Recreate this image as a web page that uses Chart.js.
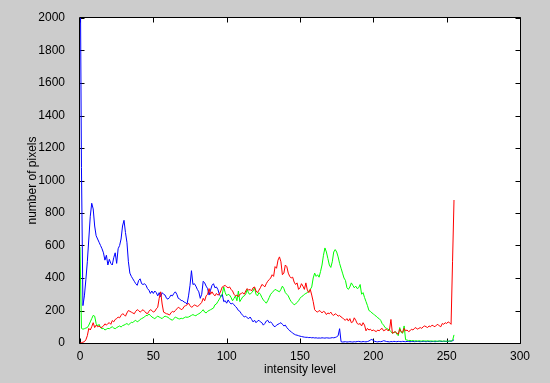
<!DOCTYPE html>
<html>
<head>
<meta charset="utf-8">
<script src="https://cdn.jsdelivr.net/npm/chart.js@4/dist/chart.umd.min.js"></script>
<style>
  html, body { margin: 0; padding: 0; background: #cccccc; }
  #hist { display: block; }
</style>
</head>
<body>
<canvas id="hist" width="550" height="383"></canvas>
<script>
// per-channel pixel counts, one value per intensity level 0..255
var redCounts = [
  0, 2, 5, 8, 20, 45, 90, 80, 100, 125,
  95, 110, 100, 105, 95, 97, 105, 118, 110, 120,
  125, 115, 138, 130, 145, 150, 160, 155, 170, 180,
  175, 165, 185, 200, 195, 190, 185, 180, 195, 205,
  200, 190, 198, 205, 195, 185, 180, 195, 205, 200,
  190, 195, 210, 220, 275, 315, 240, 190, 185, 180,
  178, 172, 185, 195, 190, 200, 210, 220, 215, 205,
  210, 225, 230, 235, 245, 230, 220, 225, 235, 230,
  225, 230, 240, 250, 275, 260, 290, 300, 335, 300,
  315, 300, 290, 305, 295, 300, 320, 345, 350, 355,
  345, 340, 345, 330, 320, 300, 290, 295, 285, 300,
  305, 310, 300, 320, 335, 325, 330, 320, 340, 345,
  320, 310, 325, 340, 360, 355, 345, 365, 380, 390,
  400, 420, 410, 470, 460, 510, 530, 500, 420, 430,
  480, 470, 430, 410, 400, 405, 375, 360, 370, 330,
  340, 365, 350, 330, 370, 325, 310, 330, 295, 255,
  205, 195, 190, 200, 195, 185, 195, 190, 175, 185,
  180, 190, 175, 170, 180, 175, 165, 170, 160, 155,
  145, 140, 150, 135, 150, 125, 130, 155, 140, 120,
  115, 120, 105, 125, 110, 75, 90, 80, 85, 75,
  80, 75, 70, 80, 75, 85, 90, 75, 80, 85,
  75, 80, 145, 60, 65, 70, 60, 55, 85, 70,
  65, 90, 75, 80, 70, 75, 85, 80, 90, 95,
  85, 90, 95, 90, 100, 105, 100, 95, 105, 100,
  110, 105, 100, 110, 115, 105, 100, 120, 115, 125,
  120, 130, 125, 115, 500, 880
];
var greenCounts = [
  590, 90, 85, 88, 92, 95, 110, 130, 150, 170,
  165, 120, 105, 115, 95, 88, 90, 80, 85, 90,
  88, 95, 100, 92, 88, 95, 100, 105, 98, 107,
  110, 115, 120, 112, 118, 128, 125, 135, 140, 130,
  135, 145, 150, 155, 160, 170, 168, 178, 170, 160,
  155, 150, 158, 165, 160, 155, 150, 160, 165, 162,
  158, 150, 145, 140, 150, 160, 155, 150, 148, 152,
  150, 155, 160, 158, 160, 165, 170, 175, 170, 168,
  175, 180, 185, 195, 205, 190, 185, 195, 200, 205,
  210, 215, 235, 240, 255, 270, 285, 300, 345, 310,
  290, 300, 295, 280, 260, 275, 290, 260, 320, 255,
  270, 285, 290, 300, 330, 305, 300, 310, 320, 340,
  300, 290, 310, 300, 280, 265, 255, 245, 260, 280,
  300, 310, 320, 330, 325, 320, 315, 330, 350, 335,
  310, 300, 290, 270, 255, 245, 235, 240, 250, 260,
  275, 285, 290, 300, 305, 310, 320, 330, 345, 400,
  430, 410, 420, 405, 440, 480, 540, 585, 560, 520,
  480, 465, 500, 560, 575, 560, 530, 490, 460, 430,
  400, 385, 340, 330, 345, 370, 355, 340, 350, 335,
  340, 360, 300, 310, 280, 255, 230, 200, 195, 185,
  180, 170, 165, 155, 150, 140, 120, 110, 95, 90,
  85, 80, 70, 60, 65, 70, 55, 45, 95, 65,
  60, 105, 20, 18, 15, 16, 14, 15, 13, 14,
  12, 14, 13, 12, 14, 13, 12, 14, 12, 13,
  12, 11, 13, 12, 11, 12, 13, 11, 12, 11,
  12, 11, 12, 12, 15, 50
];
var blueCounts = [
  2600, 1080, 230, 290, 390, 500, 640, 780, 860, 825,
  720, 660, 640, 620, 600, 580, 555, 510, 540, 480,
  515, 490, 480, 525, 555, 490, 580, 600, 640, 720,
  755, 680, 620, 500, 430, 410, 395, 380, 365, 355,
  385, 395, 365, 360, 365, 355, 335, 325, 305, 320,
  305, 320, 310, 290, 310, 285, 310, 300, 295, 275,
  270, 280, 295, 290, 305, 315, 300, 275, 270, 262,
  260, 252, 248, 240, 290, 355, 445, 360, 365, 350,
  330, 315, 275, 300, 380, 370, 350, 335, 295, 325,
  355, 365, 340, 345, 330, 300, 285, 300, 255, 260,
  245, 265, 250, 240, 245, 235, 225, 215, 200, 195,
  180, 170, 160, 165, 155, 150, 160, 145, 130, 140,
  125, 135, 140, 130, 125, 110, 120, 135, 140, 125,
  130, 120, 105, 100, 110, 115, 120, 125, 115, 105,
  110, 95, 85, 75, 70, 60, 55, 50, 48, 45,
  42, 40, 38, 36, 35, 35, 33, 34, 32, 33,
  31, 32, 30, 31, 30, 32, 31, 30, 32, 31,
  30, 31, 33, 32, 34, 38, 45, 88, 8, 6,
  7, 8, 6, 7, 8, 7, 6, 8, 7, 9,
  10, 8, 7, 9, 8, 7, 9, 12, 18, 22,
  15, 10, 8, 7, 9, 8, 10, 14, 12, 9,
  8, 7, 9, 8, 10, 9, 8, 10, 9, 8,
  10, 9, 8, 10, 9, 8, 9, 10, 8, 9,
  10, 9, 8, 9, 10, 9, 8, 10, 9, 8,
  9, 10, 8, 9, 10, 12, 10, 9, 11, 10,
  9, 10, 12, 11, 14, 20
];
var xTicks = [0, 50, 100, 150, 200, 250, 300];
var yTicks = [0, 200, 400, 600, 800, 1000, 1200, 1400, 1600, 1800, 2000];

function toPoints(counts) {
  return counts.map(function (v, i) { return { x: i, y: v }; });
}

function plainLabel(v) { return String(v); }

// white axes box with inward ticks on all four sides
var axesBox = {
  id: 'axesBox',
  beforeDraw: function (chart) {
    var a = chart.chartArea, c = chart.ctx;
    c.save();
    c.fillStyle = '#ffffff';
    c.fillRect(a.left, a.top, a.right - a.left, a.bottom - a.top);
    c.restore();
  },
  beforeDatasetsDraw: function (chart) {
    var a = chart.chartArea, c = chart.ctx;
    var xs = chart.scales.x, ys = chart.scales.y;
    var L = a.left - 0.5, R = a.right + 0.5, T = a.top - 0.5, B = a.bottom + 0.5;
    var len = 5;
    c.save();
    c.strokeStyle = '#000000';
    c.lineWidth = 1;
    c.beginPath();
    c.rect(L, T, R - L, B - T);
    xTicks.forEach(function (v) {
      var px = Math.round(xs.getPixelForValue(v)) + 0.5;
      c.moveTo(px, B); c.lineTo(px, B - len);
      c.moveTo(px, T); c.lineTo(px, T + len);
    });
    yTicks.forEach(function (v) {
      var py = Math.round(ys.getPixelForValue(v)) + 0.5;
      c.moveTo(L, py); c.lineTo(L + len, py);
      c.moveTo(R, py); c.lineTo(R - len, py);
    });
    c.stroke();
    c.restore();
  }
};

var font = { family: 'Liberation Sans, Arial, sans-serif', size: 12 };

var chart = new Chart(document.getElementById('hist').getContext('2d'), {
  type: 'line',
  data: {
    datasets: [
      { label: 'R', data: toPoints(redCounts), borderColor: '#ff0000' },
      { label: 'G', data: toPoints(greenCounts), borderColor: '#00ff00' },
      { label: 'B', data: toPoints(blueCounts), borderColor: '#0000ff' }
    ]
  },
  options: {
    responsive: false,
    animation: false,
    devicePixelRatio: 1,
    layout: { padding: { left: 0, right: 30, top: 18, bottom: 0 } },
    elements: {
      line: { borderWidth: 1, tension: 0, fill: false },
      point: { radius: 0, hoverRadius: 0 }
    },
    plugins: { legend: { display: false }, tooltip: { enabled: false } },
    scales: {
      x: {
        type: 'linear',
        min: 0,
        max: 300,
        grid: { display: false },
        border: { display: false },
        ticks: { color: '#000', font: font, padding: -2, maxRotation: 0, callback: plainLabel },
        afterBuildTicks: function (s) { s.ticks = xTicks.map(function (v) { return { value: v }; }); },
        afterFit: function (s) { s.height = 40; },
        title: { display: true, text: 'intensity level', color: '#000', font: font, padding: { top: 0, bottom: 6 } }
      },
      y: {
        min: 0,
        max: 2000,
        grid: { display: false },
        border: { display: false },
        ticks: { color: '#000', font: font, padding: 7, callback: plainLabel },
        afterBuildTicks: function (s) { s.ticks = yTicks.map(function (v) { return { value: v }; }); },
        afterFit: function (s) { s.width = 80; },
        title: { display: true, text: 'number of pixels', color: '#000', font: font, padding: { top: 25, bottom: 0 } }
      }
    }
  },
  plugins: [axesBox]
});
</script>
</body>
</html>
